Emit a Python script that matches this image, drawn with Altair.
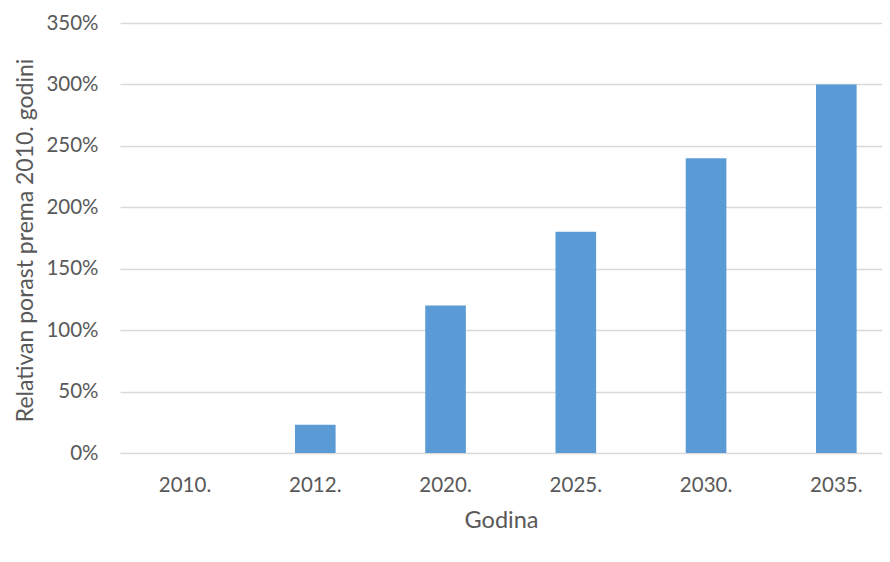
import altair as alt
import pandas as pd

years = ["2010.", "2012.", "2020.", "2025.", "2030.", "2035."]
growth = [0.0, 0.23, 1.20, 1.80, 2.40, 3.00]

df = pd.DataFrame({"Godina": years, "Rast": growth})

FONT = "Lato"
GREY = "#595959"

chart = alt.Chart(df).mark_bar(color="#5B9BD5").encode(
    x=alt.X(
        "Godina:N",
        sort=years,
        title="Godina",
        scale=alt.Scale(paddingInner=0.688, paddingOuter=0.269, align=0.638),
        axis=alt.Axis(
            labelAngle=0, ticks=False, domain=False, labelPadding=22,
            labelFontSize=20.5, labelColor=GREY, labelFont=FONT,
            titleFontSize=23.5, titleColor=GREY, titleFont=FONT, titleFontWeight="normal",
            titlePadding=13,
        ),
    ),
    y=alt.Y(
        "Rast:Q",
        title="Relativan porast prema 2010. godini",
        scale=alt.Scale(domain=[0, 3.5], nice=False),
        axis=alt.Axis(
            format=".0%", values=[0, 0.5, 1, 1.5, 2, 2.5, 3, 3.5],
            ticks=False, domain=False, labelPadding=22,
            labelFontSize=20.5, labelColor=GREY, labelFont=FONT,
            gridColor="#D9D9D9", gridWidth=1.3,
            titleFontSize=23, titleColor=GREY, titleFont=FONT, titleFontWeight="normal",
            titlePadding=8, titleY=217,
        ),
    ),
).properties(
    width=762,
    height=430,
    autosize=alt.AutoSizeParams(type="none"),
    padding={"left": 112, "top": 15, "right": 0, "bottom": 80},
).configure_view(stroke=None)

chart.save("out.html", embed_options={"renderer": "svg", "actions": False})
